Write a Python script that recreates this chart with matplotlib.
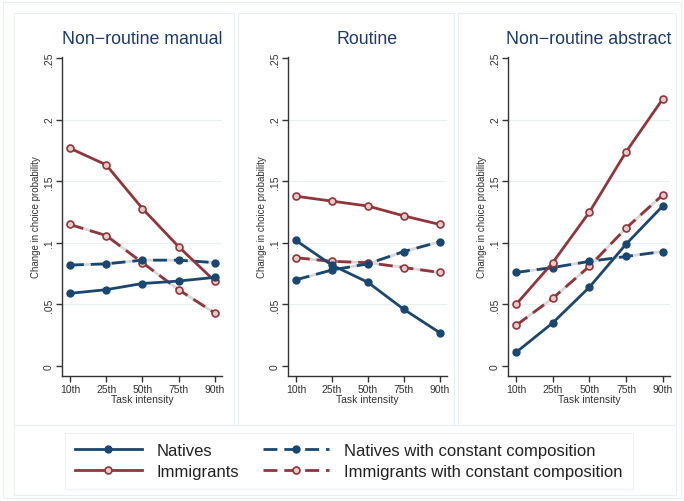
import matplotlib
matplotlib.use("Agg")
import matplotlib.pyplot as plt
from matplotlib.patches import Rectangle
from matplotlib.lines import Line2D

plt.rcParams['font.family'] = ['Liberation Sans', 'DejaVu Sans']

tick_labels = ["10th", "25th", "50th", "75th", "90th"]
panel_titles = ["Non\u2212routine manual", "Routine", "Non\u2212routine abstract"]

natives = [
    [0.059, 0.062, 0.067, 0.069, 0.072],
    [0.102, 0.082, 0.068, 0.046, 0.027],
    [0.011, 0.035, 0.064, 0.099, 0.130],
]
immigrants = [
    [0.177, 0.1635, 0.128, 0.097, 0.069],
    [0.138, 0.134, 0.130, 0.122, 0.115],
    [0.050, 0.084, 0.125, 0.174, 0.217],
]
natives_const = [
    [0.082, 0.083, 0.086, 0.086, 0.084],
    [0.070, 0.078, 0.083, 0.093, 0.101],
    [0.076, 0.080, 0.085, 0.089, 0.093],
]
immigrants_const = [
    [0.115, 0.106, 0.084, 0.062, 0.043],
    [0.088, 0.085, 0.084, 0.080, 0.076],
    [0.033, 0.055, 0.081, 0.112, 0.139],
]
yticks = [0, 0.05, 0.1, 0.15, 0.2, 0.25]
ytick_labels = ["0", ".05", ".1", ".15", ".2", ".25"]

NAVY = "#1a476f"
RED = "#90353b"
RED_FACE = "#e6c9c9"
GRAYDASH = "#d8d8d8"
TITLE_C = "#1a3b6b"

W, H = 684, 502
fig = plt.figure(figsize=(W / 100, H / 100), dpi=100)

def fx(px):
    return px / W

def fy(py):
    return 1 - py / H

def frame(x0, y0, x1, y1, color="#e9eef2", lw=0.8):
    fig.patches.append(Rectangle((fx(x0), fy(y1)), fx(x1 - x0), (y1 - y0) / H,
                                 transform=fig.transFigure, fill=False,
                                 edgecolor=color, linewidth=lw))

frame(3, 3, 681, 499)
frame(14, 14, 234, 426)
frame(238, 14, 454, 426)
frame(458, 14, 676, 426)
frame(14, 426, 676, 496)

axes_px = [(62, 222), (288, 447), (508, 670)]
top_px, bot_px = 58, 377
xlim = (-0.22, 4.2)
ylim = (-0.0082, 0.2512)

x = list(range(len(tick_labels)))

for i, (l, r) in enumerate(axes_px):
    ax = fig.add_axes([fx(l), fy(bot_px), fx(r - l), (bot_px - top_px) / H])
    ax.set_xlim(*xlim)
    ax.set_ylim(*ylim)
    for yv in yticks[1:-1]:
        ax.axhline(yv, color="#e8f0f2", lw=0.9, zorder=0)
    ax.spines['top'].set_visible(False)
    ax.spines['right'].set_visible(False)
    for s in ('left', 'bottom'):
        ax.spines[s].set_color("#333333")
        ax.spines[s].set_linewidth(1.0)
    ax.set_xticks(x)
    ax.set_xticklabels(tick_labels, fontsize=7.5, color="#333333")
    ax.set_yticks(yticks)
    ax.set_yticklabels(ytick_labels, fontsize=7.5, rotation=90, va='center', color="#333333")
    ax.tick_params(axis='both', length=4, width=1.0, color="#333333", pad=2)
    ax.set_xlabel("Task intensity", fontsize=7.5, labelpad=0, color="#333333")
    ax.set_ylabel("Change in choice probability", fontsize=7, labelpad=2, color="#333333")
    ax.set_title(panel_titles[i], fontsize=12.8, color=TITLE_C, pad=10)
    ax.patch.set_alpha(0)

    ax.plot(x, immigrants_const[i], color=GRAYDASH, lw=2.0, zorder=2)
    ax.plot(x, immigrants_const[i], color=RED, lw=2.0, dashes=(5, 2.5), zorder=3,
            marker='o', ms=5, mfc=RED_FACE, mec=RED, mew=1.2)
    ax.plot(x, natives_const[i], color=GRAYDASH, lw=2.0, zorder=2)
    ax.plot(x, natives_const[i], color=NAVY, lw=2.0, dashes=(5, 2.5), zorder=3,
            marker='o', ms=5, mfc=NAVY, mec=NAVY)
    ax.plot(x, immigrants[i], color=RED, lw=2.0, zorder=4,
            marker='o', ms=5, mfc=RED_FACE, mec=RED, mew=1.2)
    ax.plot(x, natives[i], color=NAVY, lw=2.0, zorder=4,
            marker='o', ms=5, mfc=NAVY, mec=NAVY)

legend_handles = [
    Line2D([], [], color=NAVY, lw=2.0, marker='o', ms=5, mfc=NAVY, mec=NAVY),
    Line2D([], [], color=RED, lw=2.0, marker='o', ms=5, mfc=RED_FACE, mec=RED, mew=1.2),
    Line2D([], [], color=NAVY, lw=2.0, dashes=(5, 2.5), marker='o', ms=5, mfc=NAVY, mec=NAVY),
    Line2D([], [], color=RED, lw=2.0, dashes=(5, 2.5), marker='o', ms=5, mfc=RED_FACE, mec=RED, mew=1.2),
]
legend_labels = ["Natives", "Immigrants", "Natives with constant composition",
                 "Immigrants with constant composition"]
leg = fig.legend(legend_handles, legend_labels, ncol=2, loc='center',
                 bbox_to_anchor=(fx(349), fy(462)), fontsize=12, frameon=True,
                 handlelength=4.0, columnspacing=1.4, handletextpad=0.9,
                 labelspacing=0.35, borderpad=0.6, fancybox=False)
leg.get_frame().set_edgecolor("#e9eef2")
leg.get_frame().set_linewidth(0.8)
for t in leg.get_texts():
    t.set_color("#222222")

fig.savefig("out.png", dpi=100, facecolor="white")
